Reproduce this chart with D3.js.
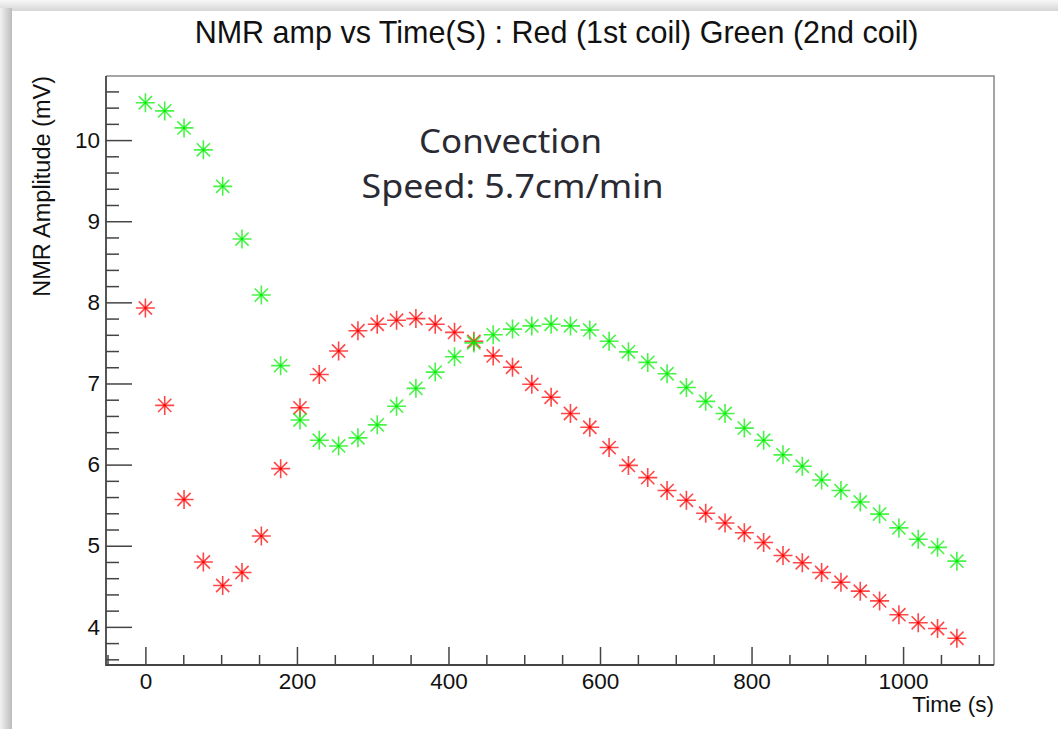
<!DOCTYPE html>
<html>
<head>
<meta charset="utf-8">
<script src="https://cdn.jsdelivr.net/npm/d3@7"></script>
<style>
  html, body { margin: 0; padding: 0; background: #f3f3f3; }
  svg { display: block; }
</style>
</head>
<body>
<svg id="chart" width="1058" height="729"></svg>
<script>
// ---- data ----
const times = [0, 25.5, 51, 76.5, 102, 127.5, 153, 178.5, 204, 229.5, 255, 280.5, 306, 331.5, 357, 382.5, 408, 433.5, 459, 484.5, 510, 535.5, 561, 586.5, 612, 637.5, 663, 688.5, 714, 739.5, 765, 790.5, 816, 841.5, 867, 892.5, 918, 943.5, 969, 994.5, 1020, 1045.5, 1071];
const redCoil = [7.93, 6.73, 5.57, 4.80, 4.51, 4.67, 5.12, 5.95, 6.70, 7.11, 7.40, 7.65, 7.73, 7.78, 7.80, 7.73, 7.63, 7.52, 7.34, 7.20, 6.99, 6.83, 6.63, 6.46, 6.21, 5.99, 5.84, 5.68, 5.56, 5.40, 5.28, 5.16, 5.04, 4.88, 4.79, 4.67, 4.55, 4.44, 4.32, 4.15, 4.05, 3.98, 3.86];
const greenCoil = [10.46, 10.36, 10.15, 9.88, 9.43, 8.78, 8.09, 7.22, 6.55, 6.30, 6.23, 6.33, 6.49, 6.72, 6.94, 7.14, 7.33, 7.50, 7.60, 7.67, 7.71, 7.73, 7.71, 7.66, 7.52, 7.39, 7.26, 7.12, 6.95, 6.78, 6.63, 6.45, 6.30, 6.12, 5.98, 5.81, 5.68, 5.54, 5.39, 5.22, 5.08, 4.98, 4.81];
const xTicks = [0, 200, 400, 600, 800, 1000];
const yTicks = [4, 5, 6, 7, 8, 9, 10];
const xDomain = [-52, 1120];
const yDomain = [3.53, 10.79];
const titleText = "NMR amp vs Time(S) : Red (1st coil) Green (2nd coil)";
const xLabel = "Time (s)";
const yLabel = "NMR Amplitude (mV)";
const noteLines = ["Convection", "Speed: 5.7cm/min"];

// ---- layout ----
const W = 1058, H = 729;
const plot = { left: 106, right: 994, top: 76, bottom: 665 };
const svg = d3.select("#chart");
const defs = svg.append("defs");

const gTop = defs.append("linearGradient").attr("id", "shTop").attr("x1", 0).attr("y1", 0).attr("x2", 0).attr("y2", 1);
gTop.append("stop").attr("offset", "0%").attr("stop-color", "#f7f7f7");
gTop.append("stop").attr("offset", "100%").attr("stop-color", "#d6d6d6");
const gLeft = defs.append("linearGradient").attr("id", "shLeft").attr("x1", 0).attr("y1", 0).attr("x2", 1).attr("y2", 0);
gLeft.append("stop").attr("offset", "0%").attr("stop-color", "#f2f2f2");
gLeft.append("stop").attr("offset", "100%").attr("stop-color", "#bcbcbc");

svg.append("rect").attr("x", 0).attr("y", 0).attr("width", W).attr("height", H).attr("fill", "#f3f3f3");
svg.append("rect").attr("x", 0).attr("y", 0).attr("width", W).attr("height", 11).attr("fill", "url(#shTop)");
svg.append("rect").attr("x", 0).attr("y", 8).attr("width", 12).attr("height", H).attr("fill", "url(#shLeft)");
svg.append("rect").attr("x", 12).attr("y", 11).attr("width", W - 12).attr("height", H - 11).attr("fill", "#ffffff");

const x = d3.scaleLinear().domain(xDomain).range([plot.left, plot.right]);
const y = d3.scaleLinear().domain(yDomain).range([plot.bottom, plot.top]);

const font = "'Liberation Sans', Arial, Helvetica, sans-serif";
const axisColor = "#444";

// frame (top/right lighter)
svg.append("path")
  .attr("d", `M${plot.left},${plot.top}H${plot.right}V${plot.bottom}`)
  .attr("fill", "none").attr("stroke", "#888").attr("stroke-width", 1.5);

// minor ticks
const xMinor = d3.range(-50, 1101, 50).filter(v => xTicks.indexOf(v) < 0 && v >= xDomain[0]);
const yMinor = d3.range(36, 107, 2).map(v => v / 10).filter(v => yTicks.indexOf(v) < 0 && v >= yDomain[0]);

const xAxisMinor = d3.axisBottom(x).tickValues(xMinor).tickSize(-10).tickSizeOuter(0).tickFormat("");
const yAxisMinor = d3.axisLeft(y).tickValues(yMinor).tickSize(-13).tickSizeOuter(0).tickFormat("");
const xAxis = d3.axisBottom(x).tickValues(xTicks).tickSize(-18).tickSizeOuter(0).tickPadding(26).tickFormat(d3.format("d"));
const yAxis = d3.axisLeft(y).tickValues(yTicks).tickSize(-26).tickSizeOuter(0).tickPadding(6).tickFormat(d3.format("d"));

function styleAxis(g) {
  g.select(".domain").remove();
  g.selectAll(".tick line").attr("stroke", axisColor).attr("stroke-width", 1.5);
  g.selectAll(".tick text").attr("fill", "#111").style("font-family", font).style("font-size", "22.5px");
}
svg.append("g").attr("transform", `translate(0,${plot.bottom})`).call(xAxisMinor).call(styleAxis);
svg.append("g").attr("transform", `translate(${plot.left},0)`).call(yAxisMinor).call(styleAxis);
const gx = svg.append("g").attr("transform", `translate(0,${plot.bottom})`).call(xAxis).call(styleAxis);
const gy = svg.append("g").attr("transform", `translate(${plot.left},0)`).call(yAxis).call(styleAxis);
gx.selectAll(".tick text").attr("dy", "0.71em").attr("y", 8);
gy.selectAll(".tick text").attr("x", -6);

// axis lines (left, bottom)
svg.append("path")
  .attr("d", `M${plot.left},${plot.top}V${plot.bottom}H${plot.right}`)
  .attr("fill", "none").attr("stroke", axisColor).attr("stroke-width", 1.8);

// title
svg.append("text").attr("x", 556.5).attr("y", 43).attr("text-anchor", "middle")
  .style("font-family", font).style("font-size", "30.5px").attr("fill", "#111").text(titleText);

// axis titles
svg.append("text").attr("x", plot.right).attr("y", 712).attr("text-anchor", "end")
  .style("font-family", font).style("font-size", "22.5px").attr("fill", "#111").text(xLabel);
svg.append("text").attr("transform", `translate(50,${plot.top})rotate(-90)`).attr("text-anchor", "end")
  .style("font-family", font).style("font-size", "23.5px").attr("fill", "#111").text(yLabel);

// annotation
const noteFont = "'Comic Sans MS', 'Noto Sans', 'DejaVu Sans', sans-serif";
svg.append("text").attr("x", 510.5).attr("y", 153).attr("text-anchor", "middle")
  .style("font-family", noteFont).style("font-size", "33px").attr("fill", "#2a2a33")
  .attr("textLength", 183).attr("lengthAdjust", "spacingAndGlyphs").text(noteLines[0]);
svg.append("text").attr("x", 512.5).attr("y", 198).attr("text-anchor", "middle")
  .style("font-family", noteFont).style("font-size", "33px").attr("fill", "#2a2a33")
  .attr("textLength", 302).attr("lengthAdjust", "spacingAndGlyphs").text(noteLines[1]);

// markers
const r = 9.5, rd = 6.6;
const star = `M${-r},0H${r}M0,${-r}V${r}M${-rd},${-rd}L${rd},${rd}M${-rd},${rd}L${rd},${-rd}`;
function drawSeries(vals, color) {
  const g = svg.append("g");
  g.selectAll("path").data(vals).join("path")
    .attr("transform", (d, i) => `translate(${x(times[i])},${y(d)})`)
    .attr("d", star)
    .attr("fill", "none").attr("stroke", color).attr("stroke-width", 1.6).attr("stroke-opacity", 0.72);
  g.selectAll("circle").data(vals).join("circle")
    .attr("cx", (d, i) => x(times[i])).attr("cy", d => y(d)).attr("r", 1.3).attr("fill", color);
}
drawSeries(redCoil, "#ff0000");
drawSeries(greenCoil, "#00ee00");
</script>
</body>
</html>
